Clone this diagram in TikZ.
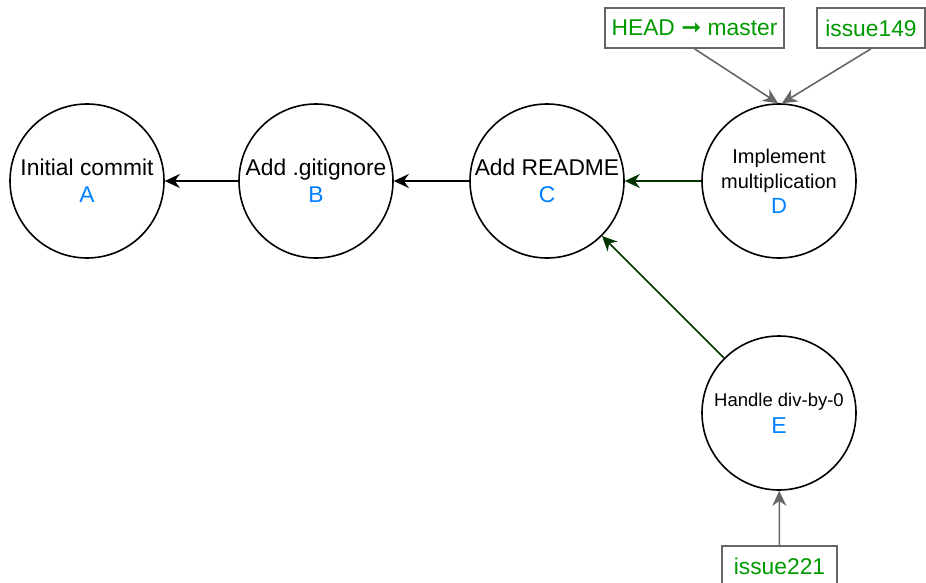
\documentclass[tikz,border=0pt]{standalone}
\usepackage{fontspec}
\setmainfont{Liberation Sans}
\newfontfamily\symfont{DejaVu Sans}
\usetikzlibrary{arrows.meta}
\definecolor{idblue}{HTML}{007FFF}
\definecolor{refgreen}{HTML}{009900}
\definecolor{linkgreen}{HTML}{003300}
\definecolor{refgray}{HTML}{666666}
\tikzstyle{commit}=[circle, draw, line width=1.6pt, minimum size=154pt,
                    inner sep=0pt, align=center, font=\fontsize{22.8}{27}\selectfont]
\tikzstyle{ref}=[rectangle, draw=refgray, line width=1.6pt, minimum height=40pt,
                 inner sep=0pt, text=refgreen, font=\fontsize{22.8}{27}\selectfont]
\tikzstyle{parent}=[-{Stealth[length=15pt,width=14pt]}, line width=1.6pt]
\tikzstyle{points}=[parent, draw=refgray, fill=refgray]
\newcommand{\commitid}[1]{{\color{idblue}#1}}

\begin{document}
\begin{tikzpicture}[x=1pt,y=-1pt]
      \useasboundingbox (0,0) rectangle (926,583);
      \node[commit] (A) at (87,181) {Initial commit\\\commitid{A}};
      \node[commit] (B) at (316,181) {Add .gitignore\\\commitid{B}};
      \node[commit] (C) at (547,181) {Add README\\\commitid{C}};
      \node[commit, font=\fontsize{20}{25}\selectfont]
	(D) at (779,181) {Implement\\multiplication\\\commitid{\fontsize{22}{24}\selectfont D}};
      \node[commit, font=\fontsize{18.5}{27}\selectfont]
	(E) at (779,413) {Handle div-by-0\\\commitid{\fontsize{23}{27}\selectfont E}};
      \node[ref, minimum width=179pt] (head) at (694.5,28)
	{HEAD {\symfont\fontsize{24}{27}\selectfont\char"279E} master};
      \node[ref, minimum width=108pt] (issue149) at (871,28) {issue149};
      \node[ref, minimum width=115pt] (issue221) at (779.5,566) {issue221};
	\draw[parent] (B)--(A);
	\draw[parent] (C)--(B);
	\draw[parent, draw=linkgreen, fill=linkgreen] (D)--(C);
	\draw[parent, draw=linkgreen, fill=linkgreen] (E)--(C);
	\draw[points] (head.south)--([xshift=-1pt]D.north);
	\draw[points] (issue149.south)--([xshift=3pt]D.north);
	\draw[points] (issue221)--(E);
    \end{tikzpicture}
\end{document}
